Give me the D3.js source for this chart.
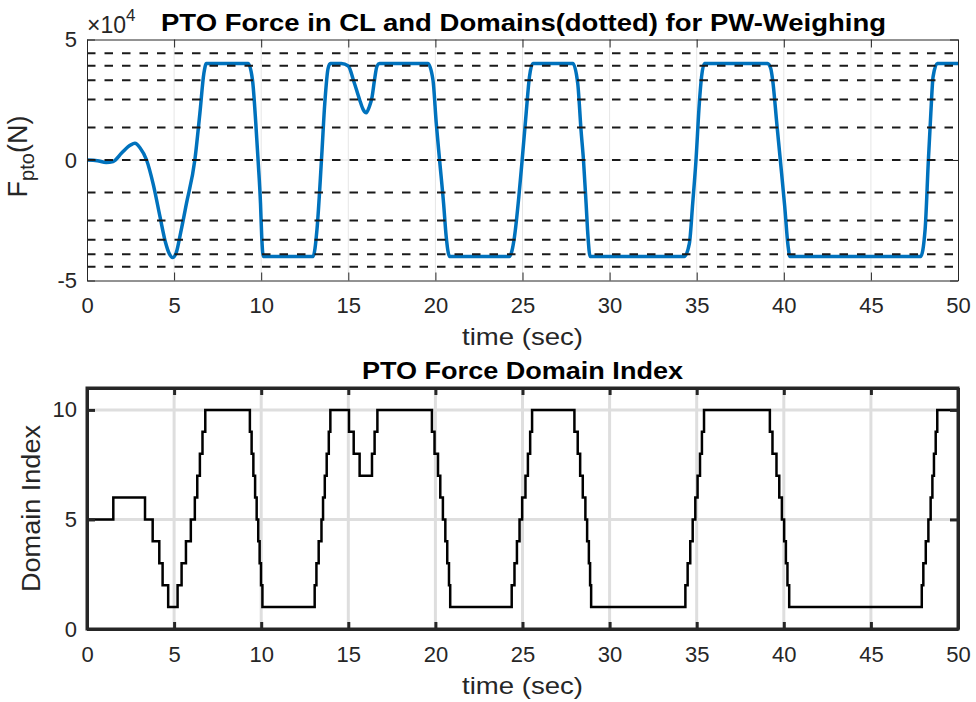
<!DOCTYPE html>
<html><head><meta charset="utf-8">
<script src="https://cdn.jsdelivr.net/npm/d3@7"></script>
<style>body{margin:0;background:#fff} svg{display:block} text{font-family:"Liberation Sans",Arial,Helvetica,sans-serif}</style>
</head><body><svg id="c" width="976" height="702"></svg>
<script>
// ---- data ----
const xTicks = [0,5,10,15,20,25,30,35,40,45,50];
const forceTicks = [-5,0,5];
const indexTicks = [0,5,10];
// PTO force (units of 1e4 N)
const forceTime  = [0,0.6,1.1,1.5,2.0,2.5,2.75,3.05,3.42,3.8,4.19,4.5,4.72,4.91,5.12,5.38,5.71,6.19,6.48,6.71,6.85,
  9.25,9.5,9.69,9.82,9.96,10.03,10.12,12.98,13.2,13.46,13.65,13.84,13.97,14.6,15.0,15.3,15.65,15.85,16.03,16.2,16.36,16.5,16.65,16.8,
  19.57,19.86,20.05,20.24,20.47,20.62,20.81,24.25,24.54,24.79,24.98,25.21,25.4,25.59,27.89,28.17,28.36,28.5,28.65,28.76,28.88,
  34.29,34.58,34.77,34.96,35.15,35.28,35.44,39.07,39.25,39.36,39.6,39.8,40.05,40.25,40.35,47.86,48.11,48.3,48.44,48.57,48.81,50];
const forceValue = [0,-0.03,-0.1,-0.06,0.3,0.62,0.69,0.5,0,-1.0,-2.35,-3.4,-3.88,-4.05,-3.85,-3.0,-1.8,0,1.94,3.6,4.0,
  4.0,3.32,1.52,0,-1.8,-3.18,-4.0,-4.0,-2.9,0,2.35,3.8,4.0,4.0,3.9,3.3,2.5,2.1,1.96,2.2,2.6,3.3,3.9,4.0,
  4.0,3.32,1.52,0,-1.8,-3.18,-4.0,-4.0,-3.18,-1.52,0,1.94,3.46,4.0,4.0,3.18,1.24,0,-1.8,-3.18,-4.0,
  -4.0,-3.46,-1.8,0,2.35,3.46,4.0,4.0,3.8,3.32,1.5,0,-1.9,-3.6,-4.0,-4.0,-2.9,0,1.94,3.46,4.0,4.0];
// domain boundaries (units of 1e4 N)
const domainLevels = [-4.43,-3.91,-3.31,-2.51,-1.35,0,1.35,2.51,3.31,3.91,4.43];
// domain index (step after)
const stepTime = [0,1.51,3.33,3.77,4.15,4.34,4.66,5.20,5.43,5.68,5.96,6.19,6.33,6.48,6.63,6.79,
  9.35,9.45,9.55,9.65,9.74,9.83,9.91,9.99,10.07,13.07,13.17,13.30,13.46,13.55,13.65,13.76,13.88,13.97,
  15.04,15.31,15.65,16.36,16.51,16.67,19.80,19.95,20.15,20.28,20.43,20.57,20.68,20.78,20.85,
  24.38,24.54,24.68,24.83,24.98,25.17,25.31,25.44,25.55,27.98,28.17,28.31,28.46,28.61,28.71,28.81,28.88,28.94,
  34.35,34.48,34.63,34.77,34.92,35.05,35.19,35.30,35.42,39.20,39.35,39.58,39.74,39.89,40.02,40.12,40.21,40.31,
  47.92,48.01,48.15,48.30,48.43,48.53,48.62,48.72,48.81,50];
const stepIndex = [5,6,5,4,3,2,1,2,3,4,5,6,7,8,9,10,
  9,8,7,6,5,4,3,2,1,2,3,4,5,6,7,8,9,10,
  9,8,7,8,9,10,9,8,7,6,5,4,3,2,1,
  2,3,4,5,6,7,8,9,10,9,8,7,6,5,4,3,2,1,
  2,3,4,5,6,7,8,9,10,9,8,7,6,5,4,3,2,1,
  2,3,4,5,6,7,8,9,10,10];

// ---- drawing ----
const svg = d3.select("#c");
const AX = "#262626";
const x = d3.scaleLinear().domain([0,50]).range([87,958]);
const yF = d3.scaleLinear().domain([-5,5]).range([280.5,39.5]);
const yI = d3.scaleLinear().domain([0,11]).range([629,388]);

function styleAxis(g, w, fs){
  g.selectAll(".domain").attr("stroke",AX).attr("stroke-width",w);
  g.selectAll(".tick line").attr("stroke",AX).attr("stroke-width",w);
  g.selectAll(".tick text").attr("fill",AX).style("font-size",fs+"px").style("font-family","'Liberation Sans',Arial,sans-serif");
}

// ===== top panel =====
const topG = svg.append("g");
topG.append("g").selectAll("line").data(xTicks.filter(d=>d>0&&d<50)).join("line")
  .attr("x1",d=>x(d)).attr("x2",d=>x(d)).attr("y1",yF(5)).attr("y2",yF(-5))
  .attr("stroke","#e6e6e6").attr("stroke-width",1);
topG.append("g").selectAll("line").data(forceTicks.filter(d=>d>-5&&d<5)).join("line")
  .attr("x1",x(0)).attr("x2",x(50)).attr("y1",d=>yF(d)).attr("y2",d=>yF(d))
  .attr("stroke","#e6e6e6").attr("stroke-width",1);

const forceData = forceTime.map((t,i)=>[t,forceValue[i]]);
topG.append("path").datum(forceData)
  .attr("d", d3.line().x(d=>x(d[0])).y(d=>yF(d[1])).curve(d3.curveMonotoneX))
  .attr("fill","none").attr("stroke","#0072BD").attr("stroke-width",3.5).attr("stroke-linejoin","round");

topG.append("g").selectAll("line").data(domainLevels).join("line")
  .attr("x1",x(0)).attr("x2",x(50)).attr("y1",d=>yF(d)).attr("y2",d=>yF(d))
  .attr("stroke","#1a1a1a").attr("stroke-width",2).attr("stroke-dasharray","8.5,9");

const fmt = d=>String(d);
let g;
g = topG.append("g").attr("transform",`translate(0,${yF(-5)})`)
  .call(d3.axisBottom(x).tickValues(xTicks).tickSize(-8).tickSizeOuter(0).tickPadding(17).tickFormat(fmt));
styleAxis(g,1,22);
g = topG.append("g").attr("transform",`translate(0,${yF(5)})`)
  .call(d3.axisTop(x).tickValues(xTicks).tickSize(-8).tickSizeOuter(0).tickFormat(""));
styleAxis(g,1,22);
g = topG.append("g").attr("transform",`translate(${x(0)},0)`)
  .call(d3.axisLeft(yF).tickValues(forceTicks).tickSize(-8).tickSizeOuter(0).tickPadding(10).tickFormat(fmt));
styleAxis(g,1,22);
g = topG.append("g").attr("transform",`translate(${x(50)},0)`)
  .call(d3.axisRight(yF).tickValues(forceTicks).tickSize(-8).tickSizeOuter(0).tickFormat(""));
styleAxis(g,1,22);

// exponent
const ex = topG.append("text").attr("x",87).attr("y",33).attr("fill",AX).style("font-size","23px");
ex.append("tspan").text("\u00d710");
ex.append("tspan").attr("dy",-12).style("font-size","17px").text("4");

topG.append("text").attr("x",523.5).attr("y",31).attr("text-anchor","middle")
  .style("font-size","23px").style("font-weight","bold").attr("fill","#000")
  .attr("textLength",725).attr("lengthAdjust","spacingAndGlyphs")
  .text("PTO Force in CL and Domains(dotted) for PW-Weighing");
topG.append("text").attr("x",522.5).attr("y",345).attr("text-anchor","middle")
  .style("font-size","24px").attr("fill",AX)
  .attr("textLength",121).attr("lengthAdjust","spacingAndGlyphs").text("time (sec)");
const yl = topG.append("text").attr("transform","translate(27,156.5) rotate(-90)")
  .attr("text-anchor","middle").style("font-size","27px").attr("fill",AX);
yl.append("tspan").text("F");
yl.append("tspan").attr("dy",7).style("font-size","20px").text("pto");
yl.append("tspan").attr("dy",-7).text("(N)");

// ===== bottom panel =====
const botG = svg.append("g");
botG.append("g").selectAll("line").data(xTicks.filter(d=>d>0&&d<50)).join("line")
  .attr("x1",d=>x(d)).attr("x2",d=>x(d)).attr("y1",yI(11)).attr("y2",yI(0))
  .attr("stroke","#dedede").attr("stroke-width",3);
botG.append("g").selectAll("line").data(indexTicks.filter(d=>d>0)).join("line")
  .attr("x1",x(0)).attr("x2",x(50)).attr("y1",d=>yI(d)).attr("y2",d=>yI(d))
  .attr("stroke","#dedede").attr("stroke-width",3);

const stepData = stepTime.map((t,i)=>[t,stepIndex[i]]);
botG.append("path").datum(stepData)
  .attr("d", d3.line().x(d=>x(d[0])).y(d=>yI(d[1])).curve(d3.curveStepAfter))
  .attr("fill","none").attr("stroke","#000").attr("stroke-width",2.5);

g = botG.append("g").attr("transform",`translate(0,${yI(0)})`)
  .call(d3.axisBottom(x).tickValues(xTicks).tickSize(-7).tickSizeOuter(0).tickPadding(17).tickFormat(fmt));
styleAxis(g,3,22);
g = botG.append("g").attr("transform",`translate(0,${yI(11)})`)
  .call(d3.axisTop(x).tickValues(xTicks).tickSize(-7).tickSizeOuter(0).tickFormat(""));
styleAxis(g,3,22);
g = botG.append("g").attr("transform",`translate(${x(0)},0)`)
  .call(d3.axisLeft(yI).tickValues(indexTicks).tickSize(-8).tickSizeOuter(0).tickPadding(10).tickFormat(fmt));
styleAxis(g,3,22);
g = botG.append("g").attr("transform",`translate(${x(50)},0)`)
  .call(d3.axisRight(yI).tickValues(indexTicks).tickSize(-8).tickSizeOuter(0).tickFormat(""));
styleAxis(g,3,22);
botG.append("rect").attr("x",x(0)).attr("y",yI(11)).attr("width",x(50)-x(0)).attr("height",yI(0)-yI(11))
  .attr("fill","none").attr("stroke",AX).attr("stroke-width",3);

botG.append("text").attr("x",522.5).attr("y",379).attr("text-anchor","middle")
  .style("font-size","23px").style("font-weight","bold").attr("fill","#000")
  .attr("textLength",321).attr("lengthAdjust","spacingAndGlyphs").text("PTO Force Domain Index");
botG.append("text").attr("x",522.5).attr("y",693.5).attr("text-anchor","middle")
  .style("font-size","24px").attr("fill",AX)
  .attr("textLength",121).attr("lengthAdjust","spacingAndGlyphs").text("time (sec)");
botG.append("text").attr("transform","translate(40,508.5) rotate(-90)").attr("text-anchor","middle")
  .style("font-size","26px").attr("fill",AX)
  .attr("textLength",167).attr("lengthAdjust","spacingAndGlyphs").text("Domain Index");
</script>
</body></html>
